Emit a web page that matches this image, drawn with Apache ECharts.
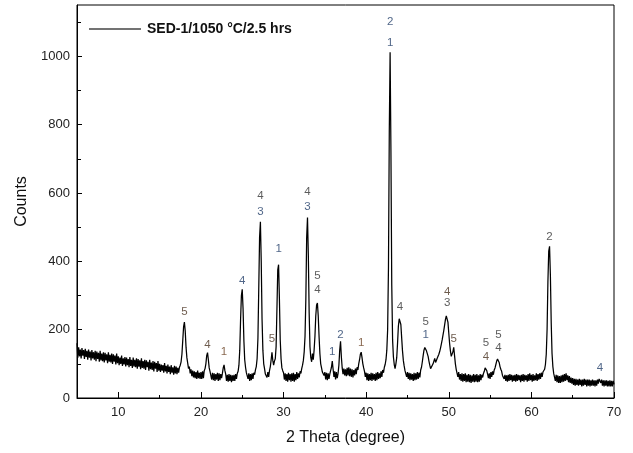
<!DOCTYPE html>
<html>
<head>
<meta charset="utf-8">
<script src="https://cdn.jsdelivr.net/npm/echarts@6/dist/echarts.min.js"></script>
<style>html,body{margin:0;padding:0;background:#fff}#c{width:633px;height:453px}</style>
</head>
<body>
<div id="c"></div>
<script>
// 2θ sampling: start and step (degrees); counts, 0.1° apart
var twoThetaStart = 5.0;
var twoThetaStep = 0.1;
var counts05 = [160,118,148,122,142,116,146,124,140,114, 144,120,138,112,142,118,136,110,140,116, 134,112,138,108,136,114,132,106,138,110, 130,108,134,104,132,110,128,102,134,106, 126,104,130,100,128,106,124,98,130,102];
var counts10 = [122,96,118,100,124,94,116,98,120,92, 118,96,114,90,120,94,112,88,118,92, 112,90,116,86,114,92,110,84,116,88, 108,86,112,82,110,90,106,80,112,84, 104,82,108,78,106,86,102,76,108,80];
var counts15 = [100,76,98,80,96,74,102,78,94,72, 98,76,92,70,96,74,90,68,94,72, 92,70,88,74,90,96,106,128,168,208, 222,196,148,118,102,86,92,72,84,64, 80,60,78,58,76,56,80,58,74,56];
var counts20 = [76,56,78,58,80,86,100,124,133,112, 88,78,66,54,74,52,72,50,70,54, 74,50,72,52,70,58,72,88,97,80, 70,50,68,48,70,50,68,46,66,50, 68,50,70,56,72,78,96,140,230,300];
var counts25 = [318,262,168,112,90,74,74,56,72,50, 70,52,72,56,74,68,82,92,115,175, 320,470,516,400,230,140,100,86,70,74, 60,76,62,80,92,112,134,110,96,108, 115,150,260,375,390,290,170,115,88,80];
var counts30 = [74,54,72,50,70,48,74,52,70,48, 72,50,74,48,70,52,76,56,72,60, 78,72,86,96,110,135,180,290,470,528, 420,250,150,118,106,130,112,140,180,240, 272,278,240,180,130,100,88,76,80,66];
var counts35 = [76,54,74,52,72,56,70,80,90,108, 84,62,78,54,76,58,72,96,140,166, 120,88,70,86,66,84,64,88,66,90, 64,86,62,84,60,82,66,86,70,90, 82,100,112,128,134,118,100,88,78,62];
var counts40 = [74,52,72,50,70,52,74,50,72,54, 70,50,74,52,76,56,72,58,78,62, 82,74,90,98,112,140,200,380,780,1012, 720,330,170,120,98,86,100,118,160,210, 232,236,215,176,138,110,94,80,84,62];
var counts45 = [76,56,74,52,72,54,70,50,74,52, 72,54,76,56,74,60,82,90,106,124, 140,148,151,138,140,122,108,96,86,90, 84,100,108,116,104,110,116,122,128,136, 146,158,170,184,198,214,230,240,244,222];
var counts50 = [190,160,138,122,120,135,148,124,100,84, 80,62,76,54,70,50,72,48,70,50, 72,46,68,48,70,46,68,44,66,48, 70,46,68,48,70,46,66,48,70,52, 68,60,72,78,88,92,80,70,58,72];
var counts55 = [56,76,62,78,68,82,88,98,108,114, 116,104,92,84,78,66,70,56,68,50, 66,48,68,50,70,52,68,48,66,50, 68,48,70,50,68,52,66,46,68,50, 70,48,68,52,66,48,70,50,72,52];
var counts60 = [68,48,70,50,66,52,72,50,70,54, 72,56,74,62,76,76,84,98,128,200, 340,430,444,360,220,130,92,72,70,50, 68,46,66,44,64,44,66,46,68,48, 70,50,72,52,66,46,64,44,60,42];
var counts65 = [58,38,56,36,56,38,54,36,56,38, 54,34,54,36,56,38,54,34,54,36, 54,34,52,36,54,36,52,34,52,36, 54,42,56,58,44,54,36,52,34,52, 36,52,34,50,34,52,34,50,34,50, 40];

// peak phase labels: position (2θ, counts), text, colour
var peakLabelX =    [18.0, 20.8, 22.8, 25.0, 27.2, 27.2, 28.6, 29.4, 32.9, 32.9, 34.1, 34.1, 35.9, 36.9, 39.4, 42.9, 42.9, 44.1, 47.2, 47.2, 49.8, 49.8, 50.6, 54.5, 54.5, 56.0, 56.0, 62.2, 68.3];
var peakLabelY =    [252,  155,  135,  343,  592,  545,  173,  437,  604,  560,  358,  317,  135,  185,  161,  1100, 1040, 267,  223,  185,  311,  279,  173,  161,  120,  185,  147,  472,  88];
var peakLabelText = ['5',  '4',  '1',  '4',  '4',  '3',  '5',  '1',  '4',  '3',  '5',  '4',  '1',  '2',  '1',  '2',  '1',  '4',  '5',  '1',  '4',  '3',  '5',  '5',  '4',  '5',  '4',  '2',  '4'];
var peakLabelColor = ['#4a3322','#4a3322','#6b4426','#24406a','#333333','#24406a','#4a3322','#24406a','#333333','#24406a','#333333','#333333','#24406a','#24406a','#6b4426','#24406a','#24406a','#333333','#333333','#24406a','#4a3322','#333333','#4a3322','#333333','#4a3322','#333333','#333333','#333333','#24406a'];

var xMajorTicks = [10, 20, 30, 40, 50, 60, 70];
var xMinorTicks = [15, 25, 35, 45, 55, 65];
var yMajorTicks = [0, 200, 400, 600, 800, 1000];
var yMinorTicks = [100, 300, 500, 700, 900, 1100];

var seriesName = 'SED-1/1050 °C/2.5 hrs';

var allCounts = [].concat(counts05, counts10, counts15, counts20, counts25, counts30, counts35, counts40, counts45, counts50, counts55, counts60, counts65);
var lineData = allCounts.map(function (c, i) {
  return [+(twoThetaStart + i * twoThetaStep).toFixed(2), c];
});
var labelData = peakLabelX.map(function (x, i) {
  return { value: [x, peakLabelY[i]], name: peakLabelText[i], label: { color: peakLabelColor[i] } };
});

var font = 'Liberation Sans, Arial, sans-serif';
var chart = echarts.init(document.getElementById('c'), null, { renderer: 'canvas' });
chart.setOption({
  animation: false,
  backgroundColor: '#fff',
  grid: { left: 77, right: 19, top: 5, bottom: 55, show: true, borderColor: '#000', borderWidth: 1, backgroundColor: 'transparent' },
  legend: {
    left: 84, top: 17, itemWidth: 52, itemHeight: 1.5, itemGap: 6,
    textStyle: { fontFamily: font, fontSize: 14, fontWeight: 'bold', color: '#111', padding: [0, 0, 0, 1] },
    data: [{ name: seriesName, icon: 'rect', itemStyle: { color: '#444' } }]
  },
  xAxis: [{
    type: 'value', min: 5, max: 70, position: 'bottom',
    name: '2 Theta (degree)', nameLocation: 'middle', nameGap: 32,
    nameTextStyle: { fontFamily: font, fontSize: 16, color: '#111' },
    axisLine: { show: true, lineStyle: { color: '#000', width: 1 } },
    axisTick: { show: true, inside: true, length: 6, lineStyle: { color: '#000' }, customValues: xMajorTicks },
    axisLabel: { fontFamily: font, fontSize: 13, color: '#222', margin: 8, customValues: xMajorTicks },
    splitLine: { show: false }
  }, {
    type: 'value', min: 5, max: 70, position: 'bottom',
    axisLine: { show: false },
    axisTick: { show: true, inside: true, length: 3, lineStyle: { color: '#000' }, customValues: xMinorTicks },
    axisLabel: { show: false, customValues: xMinorTicks },
    splitLine: { show: false }
  }],
  yAxis: [{
    type: 'value', min: 0, max: 1150, position: 'left',
    name: 'Counts', nameLocation: 'middle', nameGap: 47, nameRotate: 90,
    nameTextStyle: { fontFamily: font, fontSize: 16, color: '#111' },
    axisLine: { show: true, lineStyle: { color: '#000', width: 1 } },
    axisTick: { show: true, inside: true, length: 5, lineStyle: { color: '#000' }, customValues: yMajorTicks },
    axisLabel: { fontFamily: font, fontSize: 13, color: '#222', margin: 7, customValues: yMajorTicks, formatter: function (v) { return String(v); } },
    splitLine: { show: false }
  }, {
    type: 'value', min: 0, max: 1150, position: 'left',
    axisLine: { show: false },
    axisTick: { show: true, inside: true, length: 4, lineStyle: { color: '#000' }, customValues: yMinorTicks },
    axisLabel: { show: false, customValues: yMinorTicks },
    splitLine: { show: false }
  }],
  series: [{
    name: seriesName,
    type: 'line', xAxisIndex: 0, yAxisIndex: 0,
    data: lineData, showSymbol: false, symbol: 'none',
    lineStyle: { color: '#000', width: 1.25 }, itemStyle: { color: '#000' },
    silent: true
  }, {
    type: 'scatter', xAxisIndex: 0, yAxisIndex: 0,
    data: labelData, symbolSize: 0, silent: true,
    label: {
      show: true, position: 'inside', fontFamily: font, fontSize: 11.5,
      formatter: function (p) { return p.name; }
    }
  }]
});
</script>
</body>
</html>
